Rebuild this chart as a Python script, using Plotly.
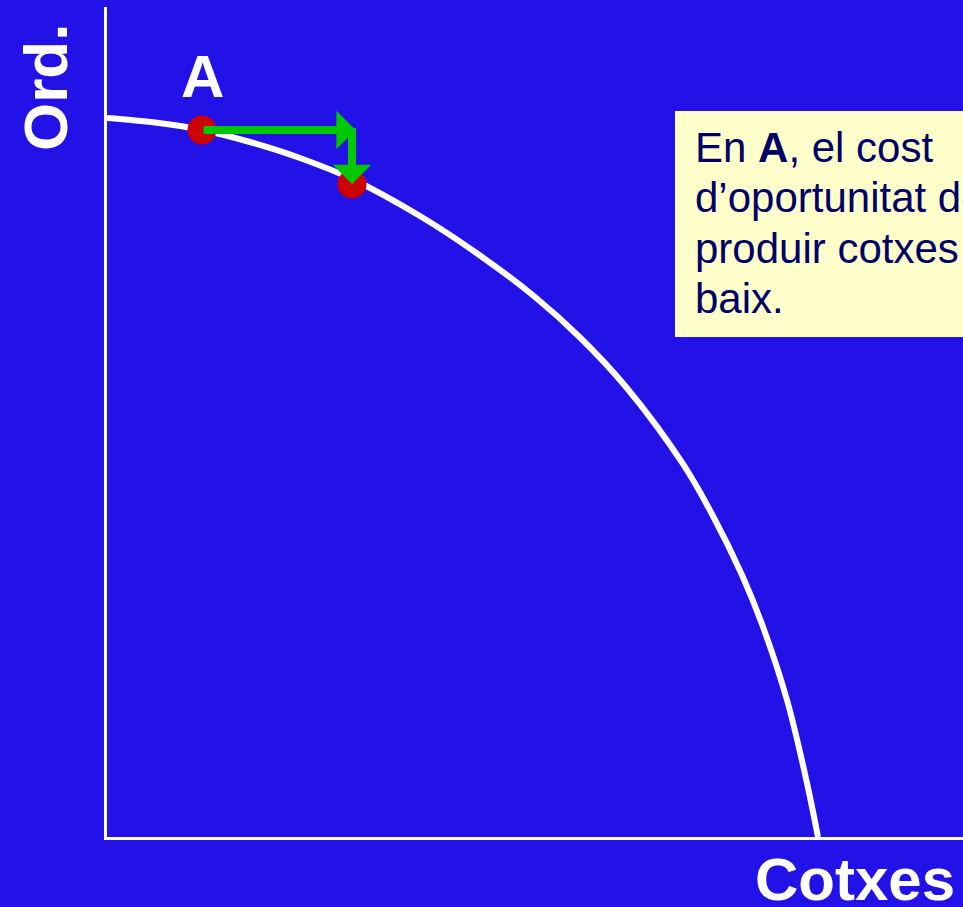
import plotly.graph_objects as go

# ---- data (production possibilities frontier) ----
ppf_x = [0, 6.75, 13.36, 20.11, 27.14, 34.46, 44.02, 52.46, 60.20, 66.53, 73.00, 81.01, 85.23, 89.31, 92.27, 95.64, 98.45, 100]
ppf_y = [100, 99.37, 98.33, 96.66, 94.44, 91.52, 86.37, 80.88, 75.10, 69.47, 62.59, 51.88, 44.65, 36.44, 29.21, 19.05, 7.51, 0]

point_x = [13.36, 34.46]   # A and the next point
point_y = [98.33, 90.82]

x_label = "Cotxes"
y_label = "Ord."
point_label = "A"
note_lines = ["En <b>A</b>, el cost", "d’oportunitat de", "produir cotxes és", "baix."]

# ---- layout helpers (pixel -> data / paper) ----
W, H = 963, 907
X0, XS = 107, 7.11   # pixel of x=0, pixels per unit
Y0, YS = 837, 7.19   # pixel of y=0, pixels per unit
TOP = 7


def dx(px):
    return (px - X0) / XS


def dy(py):
    return (Y0 - py) / YS


def pxp(px):
    return (px - X0) / (W - X0)


def pyp(py):
    return (Y0 - py) / (Y0 - TOP)


BG = "#2212E8"
FONT = "Liberation Sans, Arial, sans-serif"

fig = go.Figure()

fig.add_trace(go.Scatter(
    x=ppf_x, y=ppf_y, mode="lines",
    line=dict(color="white", width=6, shape="spline", smoothing=1.0),
    cliponaxis=False, hoverinfo="skip", showlegend=False,
))

fig.add_trace(go.Scatter(
    x=point_x, y=point_y, mode="markers",
    marker=dict(color="#CC0000", size=29),
    cliponaxis=False, hoverinfo="skip", showlegend=False,
))

green = "#00C800"
# horizontal arrow: from A to the x of the second point
fig.add_annotation(
    x=point_x[1] + 0.5, y=point_y[0], ax=point_x[0], ay=point_y[0],
    xref="x", yref="y", axref="x", ayref="y",
    showarrow=True, arrowhead=1, arrowsize=0.8, arrowwidth=8,
    arrowcolor=green, text="",
)
# vertical arrow: down to the second point
fig.add_annotation(
    x=point_x[1], y=point_y[1], ax=point_x[1], ay=point_y[0] + 0.5,
    xref="x", yref="y", axref="x", ayref="y",
    showarrow=True, arrowhead=1, arrowsize=0.8, arrowwidth=8,
    arrowcolor=green, text="",
)

# yellow note box
fig.add_shape(
    type="rect", xref="x", yref="y",
    x0=dx(675), x1=dx(1000), y0=dy(337), y1=dy(111),
    fillcolor="#FFFFCC", line=dict(width=0), layer="above",
)
baselines = [161.7, 211.7, 263, 313]
for line, base in zip(note_lines, baselines):
    fig.add_annotation(
        x=pxp(693), y=pyp(base - 14.5), xref="paper", yref="paper",
        xanchor="left", yanchor="middle", showarrow=False,
        text=line, font=dict(family=FONT, size=42, color="#000066"),
    )

# labels
fig.add_annotation(
    x=pxp(202), y=pyp(97 - 21), xref="paper", yref="paper",
    xanchor="center", yanchor="middle", showarrow=False,
    text=f"<b>{point_label}</b>", font=dict(family=FONT, size=60, color="white"),
)
fig.add_annotation(
    x=pxp(753), y=pyp(900 - 21), xref="paper", yref="paper",
    xanchor="left", yanchor="middle", showarrow=False,
    text=f"<b>{x_label}</b>", font=dict(family=FONT, size=60, color="white"),
)
fig.add_annotation(
    x=pxp(45), y=pyp(88), xref="paper", yref="paper",
    xanchor="center", yanchor="middle", showarrow=False, textangle=-90,
    text=f"<b>{y_label}</b>", font=dict(family=FONT, size=62, color="white"),
)

axis_common = dict(
    showline=True, linecolor="white", linewidth=3, mirror=False,
    showgrid=False, zeroline=False, showticklabels=False, ticks="",
    fixedrange=True,
)
fig.update_xaxes(range=[0, dx(W)], **axis_common)
fig.update_yaxes(range=[0, dy(TOP)], **axis_common)

fig.update_layout(
    width=W, height=H,
    margin=dict(l=X0, r=0, t=TOP, b=H - Y0),
    paper_bgcolor=BG, plot_bgcolor=BG,
    showlegend=False,
)

fig.write_html(
    "out.html",
    config={"displayModeBar": False},
    post_script="document.body.style.margin='0';document.body.style.background='%s';" % BG,
)
